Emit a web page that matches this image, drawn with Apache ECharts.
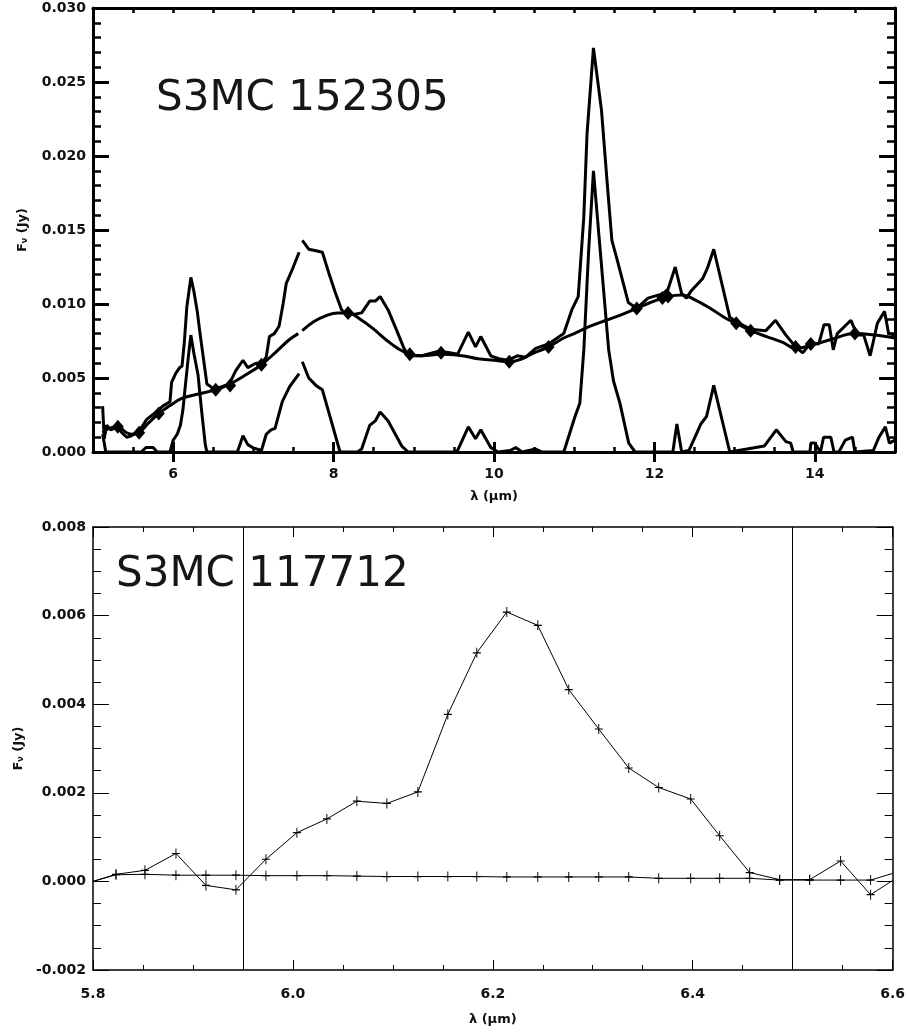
<!DOCTYPE html>
<html><head><meta charset="utf-8">
<script src="https://cdn.jsdelivr.net/npm/echarts@6/dist/echarts.min.js"></script>
<style>html,body{margin:0;padding:0;background:#fff}#c{width:908px;height:1036px}</style>
</head><body><div id="c"></div><script>
// ---------- Top panel: S3MC 152305 ----------
const topTitle = 'S3MC 152305';
const topXTicks = [6, 8, 10, 12, 14];
const spectrum = [
[5.12,0.0031],[5.14,0.0009],[5.17,0.0018],[5.22,0.0015],[5.31,0.0017],[5.36,0.0013],[5.42,0.0010],[5.48,0.0011],
[5.54,0.0013],[5.61,0.0017],[5.67,0.0022],[5.74,0.0025],[5.79,0.0027],[5.87,0.0031],[5.96,0.0034],[5.98,0.0047],
[6.03,0.0053],[6.08,0.0057],[6.11,0.0058],[6.14,0.0075],[6.17,0.0098],[6.22,0.0118],[6.26,0.0108],[6.30,0.0095],
[6.33,0.0082],[6.38,0.0062],[6.42,0.0046],[6.50,0.0043],[6.60,0.0044],[6.70,0.0046],[6.78,0.0055],[6.87,0.0062],
[6.93,0.0057],[7.03,0.0060],[7.10,0.0060],[7.16,0.0064],[7.20,0.0078],[7.26,0.0080],[7.32,0.0085],[7.37,0.0100],
[7.41,0.0114],[7.49,0.0124],[7.57,0.0135],[7.59,null],[7.61,0.0143],[7.69,0.0137],[7.78,0.0136],[7.86,0.0135],
[7.94,0.0121],[8.02,0.0108],[8.10,0.0096],[8.17,0.0093],[8.25,0.0093],[8.35,0.0094],[8.45,0.0102],[8.52,0.0102],
[8.58,0.0105],[8.68,0.0096],[8.78,0.0083],[8.87,0.0071],[8.93,0.0065],[9.10,0.0065],[9.30,0.0068],[9.45,0.0067],
[9.545,0.0066],[9.68,0.0081],[9.77,0.0071],[9.835,0.0078],[9.96,0.0065],[10.06,0.0063],[10.17,0.0062],[10.29,0.0065],
[10.39,0.0064],[10.52,0.0070],[10.68,0.0073],[10.87,0.0080],[10.97,0.0096],[11.05,0.0105],[11.12,0.0159],[11.16,0.0215],
[11.24,0.0273],[11.34,0.0231],[11.42,0.0176],[11.47,0.0143],[11.55,0.0127],[11.675,0.0101],[11.78,0.0097],[11.92,0.0104],
[12.11,0.0107],[12.17,0.0110],[12.26,0.0125],[12.34,0.0107],[12.40,0.0104],[12.46,0.0109],[12.60,0.0117],[12.66,0.0124],
[12.74,0.0137],[12.94,0.0091],[13.02,0.0088],[13.20,0.0083],[13.39,0.0082],[13.51,0.0089],[13.64,0.0079],[13.76,0.0071],
[13.85,0.0067],[13.95,0.0074],[14.05,0.0073],[14.115,0.0086],[14.18,0.0086],[14.23,0.0069],[14.28,0.0080],[14.45,0.0089],
[14.53,0.0079],[14.61,0.0079],[14.69,0.0065],[14.78,0.0087],[14.87,0.0095],[14.92,0.0080],[15.00,0.0079]
];
const residual = [
[5.12,0.0012],[5.16,0.0000],[5.60,0.0000],[5.66,0.0003],[5.75,0.0003],[5.80,0.0000],[5.96,0.0000],[6.00,0.0008],
[6.05,0.0012],[6.09,0.0018],[6.12,0.0028],[6.15,0.0044],[6.19,0.0065],[6.22,0.0079],[6.26,0.0066],[6.31,0.0052],
[6.35,0.0030],[6.40,0.0005],[6.42,0.0000],[6.80,0.0000],[6.87,0.0011],[6.93,0.0005],[6.99,0.0003],[7.10,0.0001],
[7.16,0.0012],[7.22,0.0015],[7.27,0.0016],[7.36,0.0034],[7.45,0.0044],[7.57,0.0053],[7.59,null],[7.61,0.0061],
[7.69,0.0050],[7.78,0.0045],[7.86,0.0042],[7.96,0.0023],[8.08,0.0000],[8.30,0.0000],[8.35,0.0002],[8.45,0.0018],
[8.52,0.0021],[8.58,0.0027],[8.68,0.0021],[8.85,0.0004],[8.93,0.0000],[9.50,0.0000],[9.545,0.0001],[9.68,0.0017],
[9.77,0.0009],[9.835,0.0015],[9.96,0.0003],[10.05,0.0000],[10.20,0.0001],[10.27,0.0003],[10.35,0.0000],[10.52,0.0002],
[10.60,0.0000],[10.87,0.0000],[11.01,0.0024],[11.07,0.0033],[11.12,0.0069],[11.18,0.0136],[11.24,0.0190],[11.32,0.0139],
[11.43,0.0069],[11.49,0.0048],[11.57,0.0033],[11.68,0.0006],[11.76,0.0000],[12.23,0.0000],[12.28,0.0019],[12.34,0.0000],
[12.43,0.0001],[12.58,0.0019],[12.65,0.0024],[12.74,0.0045],[12.94,0.0000],[13.37,0.0004],[13.52,0.0015],[13.64,0.0007],
[13.70,0.0006],[13.73,0.0000],[13.94,0.0000],[13.95,0.0006],[14.00,0.0006],[14.07,0.0000],[14.11,0.0010],[14.20,0.0010],
[14.24,0.0000],[14.30,0.0000],[14.38,0.0008],[14.47,0.0010],[14.50,0.0000],[14.73,0.0001],[14.80,0.0010],[14.88,0.0017],
[14.93,0.0006],[15.00,0.0008]
];
const continuum = [
[5.12,0.0013],[5.20,0.0016],[5.31,0.0017],[5.42,0.0013],[5.50,0.0012],[5.575,0.0013],[5.70,0.0020],[5.82,0.0026],
[5.95,0.0031],[6.10,0.0036],[6.30,0.0039],[6.53,0.0042],[6.71,0.0046],[6.90,0.0052],[7.10,0.0059],[7.27,0.0067],
[7.45,0.0076],[7.56,0.0080],[7.58,null],[7.61,0.0082],[7.75,0.0088],[7.90,0.0092],[8.05,0.0094],[8.18,0.0094],
[8.35,0.0089],[8.50,0.0083],[8.65,0.0076],[8.80,0.0070],[8.95,0.0066],[9.10,0.0065],[9.34,0.0066],[9.60,0.0065],
[9.80,0.0063],[10.00,0.0062],[10.19,0.0061],[10.35,0.0063],[10.50,0.0067],[10.68,0.0071],[10.87,0.0077],[11.00,0.0080],
[11.20,0.0085],[11.40,0.0089],[11.60,0.0093],[11.78,0.0097],[11.95,0.0101],[12.17,0.0105],[12.35,0.0106],[12.50,0.0103],
[12.70,0.0097],[12.90,0.0090],[13.02,0.0087],[13.20,0.0082],[13.40,0.0078],[13.60,0.0074],[13.76,0.0070],[13.95,0.0072],
[14.20,0.0076],[14.50,0.0080],[14.75,0.0079],[15.00,0.0077]
];
const anchors = [
[5.31,0.0017],[5.575,0.0013],[5.82,0.0026],[6.53,0.0042],[6.71,0.0045],[7.10,0.0059],[8.18,0.0094],[8.95,0.0066],
[9.34,0.0067],[10.19,0.0061],[10.68,0.0071],[11.78,0.0097],[12.10,0.0104],[12.17,0.0105],[13.02,0.0087],[13.20,0.0082],
[13.76,0.0071],[13.95,0.0073],[14.50,0.0080]
];

// ---------- Bottom panel: S3MC 117712 ----------
const botTitle = 'S3MC 117712';
const botWave = [5.800,5.823,5.852,5.883,5.913,5.943,5.973,6.004,6.034,6.064,6.094,6.125,6.155,6.184,
                 6.214,6.245,6.276,6.306,6.336,6.366,6.398,6.427,6.457,6.487,6.517,6.548,6.578,6.600];
const botFlux = [0.00000,0.00016,0.00025,0.00063,-0.00009,-0.00019,0.00050,0.00110,0.00141,0.00181,0.00176,0.00202,0.00377,0.00516,
                 0.00608,0.00578,0.00433,0.00344,0.00256,0.00212,0.00186,0.00103,0.00020,0.00004,0.00004,0.00046,-0.00030,0.00002];
const botCont = [0.00000,0.00015,0.00016,0.00014,0.00014,0.00014,0.00013,0.00013,0.00013,0.00012,0.00011,0.00011,0.00011,0.00011,
                 0.00010,0.00010,0.00010,0.00010,0.00010,0.00007,0.00007,0.00007,0.00007,0.00003,0.00003,0.00003,0.00003,0.00018];
const botLimits = [5.95, 6.50];

// ---------- build ----------
const FONT = 'DejaVu Sans';
const lblStyle = {fontFamily: FONT, fontWeight: 'bold', fontSize: 14, color: '#111'};
const nameStyle = {fontFamily: FONT, fontWeight: 'bold', fontSize: 13, color: '#111'};
const yName = '{f|F}{s|ν}{f| (Jy)}';
const yNameStyle = {rich: {f: nameStyle, s: {fontFamily: FONT, fontWeight: 'bold', fontSize: 8, color: '#111', verticalAlign: 'bottom', padding: [5,0,0,0]}}};
const CROSS = 'path://M4.4,0H5.6V4.4H10V5.6H5.6V10H4.4V5.6H0V4.4H4.4Z';

function pairs(xs, ys) { return xs.map((x, i) => {
  const it = {value: [x, ys[i]]};
  if (i === 0 || i === xs.length - 1) it.symbol = 'none';
  return it; }); }

const noSplit = {show: false};
const xAxes = [
  {gridIndex: 0, type: 'value', position: 'bottom', min: 5, max: 15, interval: 0.5,
   axisLine: {show: true, onZero: false, lineStyle: {color: '#000', width: 3}},
   axisTick: {show: true, inside: true, length: 5, lineStyle: {color: '#000', width: 2.5}},
   axisLabel: {margin: 15, ...lblStyle, formatter: v => {const r = Math.round(v); return (Math.abs(v - r) < 1e-9 && r % 2 === 0) ? String(r) : '';}},
   splitLine: noSplit, name: 'λ (μm)', nameLocation: 'middle', nameGap: 38, nameTextStyle: nameStyle},
  {gridIndex: 0, type: 'value', position: 'bottom', min: 5, max: 15,
   axisLine: {show: false}, axisLabel: {show: false}, splitLine: noSplit,
   axisTick: {show: true, inside: true, length: 10, customValues: topXTicks, lineStyle: {color: '#000', width: 3}}},
  {gridIndex: 0, type: 'value', position: 'top', min: 5, max: 15, interval: 0.5,
   axisLine: {show: true, onZero: false, lineStyle: {color: '#000', width: 3}},
   axisTick: {show: true, inside: true, length: 5, lineStyle: {color: '#000', width: 2.5}},
   axisLabel: {show: false}, splitLine: noSplit},
  {gridIndex: 0, type: 'value', position: 'top', min: 5, max: 15,
   axisLine: {show: false}, axisLabel: {show: false}, splitLine: noSplit,
   axisTick: {show: true, inside: true, length: 10, customValues: topXTicks, lineStyle: {color: '#000', width: 3}}},
  {gridIndex: 1, type: 'value', position: 'bottom', min: 5.8, max: 6.6, interval: 0.2,
   axisLine: {show: true, onZero: false, lineStyle: {color: '#000', width: 1.5}},
   axisTick: {show: true, inside: true, length: 10, lineStyle: {color: '#000', width: 1}},
   minorTick: {show: true, splitNumber: 4, length: 5, lineStyle: {color: '#000', width: 1}},
   axisLabel: {margin: 17, ...lblStyle, formatter: v => v.toFixed(1)},
   splitLine: noSplit, minorSplitLine: noSplit, name: 'λ (μm)', nameLocation: 'middle', nameGap: 43, nameTextStyle: nameStyle},
  {gridIndex: 1, type: 'value', position: 'top', min: 5.8, max: 6.6, interval: 0.2,
   axisLine: {show: true, onZero: false, lineStyle: {color: '#000', width: 1.5}},
   axisTick: {show: true, inside: true, length: 10, lineStyle: {color: '#000', width: 1}},
   minorTick: {show: true, splitNumber: 4, length: 5, lineStyle: {color: '#000', width: 1}},
   axisLabel: {show: false}, splitLine: noSplit}
];
const yAxes = [
  {gridIndex: 0, type: 'value', position: 'left', min: 0, max: 0.03, interval: 0.005,
   axisLine: {show: true, onZero: false, lineStyle: {color: '#000', width: 3}},
   axisTick: {show: true, inside: true, length: 16, lineStyle: {color: '#000', width: 3}},
   minorTick: {show: true, splitNumber: 5, length: 8, lineStyle: {color: '#000', width: 2.5}},
   axisLabel: {margin: 7, ...lblStyle, formatter: v => v.toFixed(3)},
   splitLine: noSplit, name: yName, nameLocation: 'middle', nameGap: 64, nameTextStyle: yNameStyle},
  {gridIndex: 0, type: 'value', position: 'right', min: 0, max: 0.03, interval: 0.005,
   axisLine: {show: true, onZero: false, lineStyle: {color: '#000', width: 3}},
   axisTick: {show: true, inside: true, length: 16, lineStyle: {color: '#000', width: 3}},
   minorTick: {show: true, splitNumber: 5, length: 8, lineStyle: {color: '#000', width: 2.5}},
   axisLabel: {show: false}, splitLine: noSplit},
  {gridIndex: 1, type: 'value', position: 'left', min: -0.002, max: 0.008, interval: 0.002,
   axisLine: {show: true, onZero: false, lineStyle: {color: '#000', width: 1.5}},
   axisTick: {show: true, inside: true, length: 16, lineStyle: {color: '#000', width: 1}},
   minorTick: {show: true, splitNumber: 4, length: 8, lineStyle: {color: '#000', width: 1}},
   axisLabel: {margin: 7, ...lblStyle, formatter: v => v.toFixed(3)},
   splitLine: noSplit, name: yName, nameLocation: 'middle', nameGap: 64, nameTextStyle: yNameStyle},
  {gridIndex: 1, type: 'value', position: 'right', min: -0.002, max: 0.008, interval: 0.002,
   axisLine: {show: true, onZero: false, lineStyle: {color: '#000', width: 1.5}},
   axisTick: {show: true, inside: true, length: 16, lineStyle: {color: '#000', width: 1}},
   minorTick: {show: true, splitNumber: 4, length: 8, lineStyle: {color: '#000', width: 1}},
   axisLabel: {show: false}, splitLine: noSplit}
];

const thick = {color: '#000', width: 3};
const option = {
  animation: false,
  backgroundColor: '#fff',
  grid: [
    {left: 93, top: 8, width: 802, height: 444},
    {left: 93, top: 527, width: 801, height: 443}
  ],
  xAxis: xAxes,
  yAxis: yAxes,
  graphic: [
    {type: 'text', x: 156, y: 99, z: 100, style: {text: topTitle, fontFamily: FONT, fontSize: 42, fill: '#161616', verticalAlign: 'middle'}},
    {type: 'text', x: 116, y: 575, z: 100, style: {text: botTitle, fontFamily: FONT, fontSize: 42, fill: '#161616', verticalAlign: 'middle'}}
  ],
  series: [
    {type: 'line', name: 'spectrum', xAxisIndex: 0, yAxisIndex: 0, data: spectrum, showSymbol: false, connectNulls: false, lineStyle: thick, itemStyle: {color: '#000'}, clip: true, z: 3},
    {type: 'line', name: 'residual', xAxisIndex: 0, yAxisIndex: 0, data: residual, showSymbol: false, connectNulls: false, lineStyle: thick, itemStyle: {color: '#000'}, clip: true, z: 3},
    {type: 'line', name: 'continuum', xAxisIndex: 0, yAxisIndex: 0, data: continuum, smooth: 0.4, showSymbol: false, connectNulls: false, lineStyle: thick, itemStyle: {color: '#000'}, clip: true, z: 3},
    {type: 'scatter', name: 'anchors', xAxisIndex: 0, yAxisIndex: 0, data: anchors, symbol: 'diamond', symbolSize: [12, 14], itemStyle: {color: '#000', opacity: 1}, z: 4},
    {type: 'line', name: 'flux', xAxisIndex: 4, yAxisIndex: 2, data: pairs(botWave, botFlux), symbol: CROSS, symbolSize: [8, 10], showSymbol: true,
     lineStyle: {color: '#000', width: 1}, itemStyle: {color: '#000'}, clip: true, z: 3,
     markLine: {silent: true, symbol: 'none', label: {show: false}, lineStyle: {color: '#000', width: 1, type: 'solid'},
                data: botLimits.map(v => ({xAxis: v}))}},
    {type: 'line', name: 'cont2', xAxisIndex: 4, yAxisIndex: 2, data: pairs(botWave, botCont), symbol: CROSS, symbolSize: [8, 10], showSymbol: true,
     lineStyle: {color: '#000', width: 1}, itemStyle: {color: '#000'}, clip: true, z: 3}
  ]
};
const chart = echarts.init(document.getElementById('c'), null, {renderer: 'canvas'});
chart.setOption(option);
</script></body></html>
